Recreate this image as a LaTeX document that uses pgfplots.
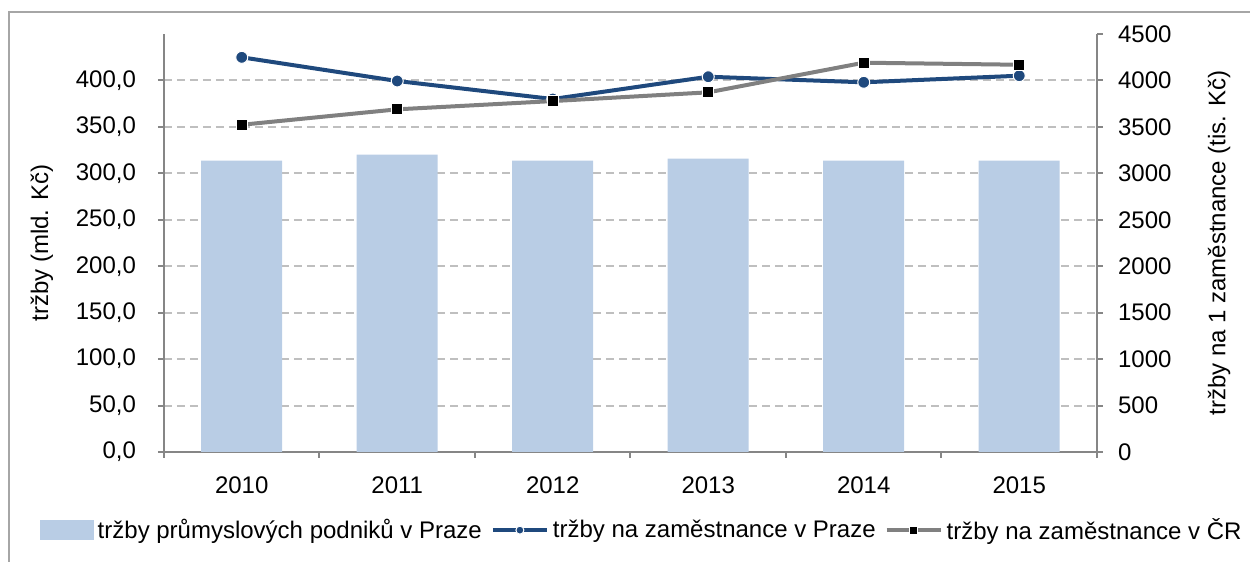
\documentclass[border=0pt]{standalone}
\usepackage{pgfplots}
\pgfplotsset{compat=1.18}
\usepackage{fontspec}
\setmainfont{Liberation Sans}
\definecolor{barblue}{HTML}{B9CDE5}
\definecolor{lineblue}{HTML}{1F497D}
\definecolor{linegray}{HTML}{808080}
\definecolor{axisgray}{HTML}{868686}
\definecolor{gridgray}{HTML}{BFBFBF}
\definecolor{framegray}{HTML}{A6A6A6}

\pgfplotsset{
  base/.style={
    scale only axis, width=466.5pt, height=209pt,
    at={(82pt,55pt)}, anchor=south west,
    xmin=-0.5, xmax=5.5, ymin=0,
    tick align=outside,
    tick style={axisgray, line width=1pt},
    axis line style={axisgray, line width=1pt},
    major tick length=3pt, minor tick length=3pt,
    /pgf/number format/assume math mode=true,
    tick label style={font=\fontsize{12}{14}\selectfont},
    label style={font=\fontsize{12}{14}\selectfont},
  },
  barlegend/.style={legend image code/.code={\fill[##1] (0pt,-5pt) rectangle (27pt,5pt);}},
  linelegend/.style={legend image code/.code={\draw[##1, mark=none] (0pt,0pt) -- (27pt,0pt);
    \draw[##1, only marks, mark size=2pt] plot coordinates {(13.5pt,0pt)};}},
}

\begin{document}
\begin{tikzpicture}
\useasboundingbox (0,0) rectangle (625pt,281pt);
\draw[framegray, line width=0.8pt] (4.5pt,-5pt) -- (4.5pt,275pt) -- (630pt,275pt);

% levá osa: tržby (mld. Kč)
\begin{axis}[base,
  axis x line*=bottom, axis y line*=left,
  ymax=450, ytick={0,50,...,400},
  yticklabel style={xshift=-7.5pt, /pgf/number format/.cd, fixed, fixed zerofill, precision=1, use comma},
  xtick={0,...,5}, xticklabels={2010,2011,2012,2013,2014,2015},
  xticklabel style={yshift=-6pt},
  major x tick style={draw=none},
  minor xtick={-0.5,0.5,...,5.5},
  ymajorgrids,
  grid style={gridgray, dash pattern=on 4pt off 2.5pt, line width=1pt},
  ylabel={tržby (mld. Kč)},
  ylabel style={at={(axis description cs:-0.131,0.5)}, anchor=center},
  ybar, bar width=40.5pt,
]
\addplot[fill=barblue, draw=none] coordinates {
  (0,313.7) (1,320.2) (2,313.7) (3,315.9) (4,313.7) (5,313.7)
};
\end{axis}

% pravá osa: tržby na 1 zaměstnance (tis. Kč)
\begin{axis}[base,
  axis x line=none, axis y line*=right,
  ymax=4500, ytick={0,500,...,4500},
  yticklabel style={xshift=4pt, /pgf/number format/1000 sep={}},
  ylabel={tržby na 1 zaměstnance (tis. Kč)},
  ylabel style={at={(axis description cs:1.131,0.5)}, anchor=center},
  legend columns=3,
  legend style={at={(axis description cs:0.513,-0.187)}, anchor=center,
    draw=none, fill=none, font=\fontsize{12}{14}\selectfont,
    nodes={inner xsep=2pt, inner ysep=1pt},
    /tikz/every even column/.append style={column sep=2.5pt}},
]
\addlegendimage{fill=barblue, draw=none, barlegend}
\addlegendentry{tržby průmyslových podniků v Praze}

\addplot[lineblue, line width=2pt, mark=*, mark size=3pt,
  mark options={fill=lineblue, draw=white, line width=0.5pt}, linelegend]
coordinates {
  (0,4249) (1,3994) (2,3800) (3,4040) (4,3980) (5,4051)
};
\addlegendentry{tržby na zaměstnance v Praze}

\addplot[linegray, line width=2pt, mark=square*, mark size=2.8pt,
  mark options={fill=black, draw=white, line width=0.5pt}, linelegend]
coordinates {
  (0,3523) (1,3689) (2,3778) (3,3872) (4,4191) (5,4169)
};
\addlegendentry{tržby na zaměstnance v ČR}
\end{axis}
\end{tikzpicture}
\end{document}
